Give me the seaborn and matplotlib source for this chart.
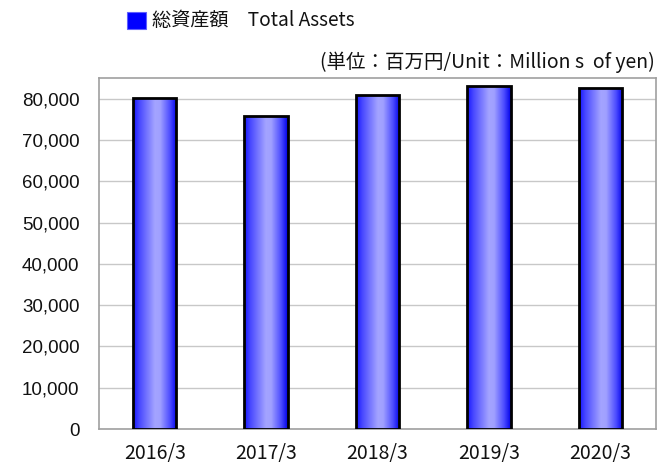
import numpy as np
import pandas as pd
import matplotlib
matplotlib.use("Agg")
import matplotlib.pyplot as plt
from matplotlib.colors import LinearSegmentedColormap
from matplotlib.ticker import FuncFormatter, MultipleLocator
import seaborn as sns

categories = ["2016/3", "2017/3", "2018/3", "2019/3", "2020/3"]
values = [80200, 75900, 81000, 83000, 82500]
legend_label = "総資産額　Total Assets"
unit_label = "(単位：百万円/Unit：Million s  of yen)"

sns.set_theme(style="white")
plt.rcParams['font.family'] = ['Liberation Sans', 'Noto Sans CJK JP', 'DejaVu Sans']

df = pd.DataFrame({"period": categories, "assets": values})

fig = plt.figure(figsize=(6.57, 4.65), dpi=100)
ax = fig.add_axes([99/657, (465-429)/465, (656-99)/657, (429-78)/465])

sns.barplot(data=df, x="period", y="assets", ax=ax, width=0.39,
            color="#0000ff", edgecolor="black", linewidth=2.0, zorder=3)

grad = LinearSegmentedColormap.from_list("g", [
    (0.0, "#1414ff"), (0.15, "#4a4aff"), (0.5, "#a4a4ff"), (0.62, "#a0a0ff"),
    (0.85, "#4a4aff"), (1.0, "#0000e8")])
gimg = np.linspace(0, 1, 256).reshape(1, -1)
for p in ax.patches:
    x0, y0 = p.get_x(), p.get_y()
    w, h = p.get_width(), p.get_height()
    im = ax.imshow(gimg, cmap=grad, extent=[x0, x0 + w, y0, y0 + h],
                   aspect="auto", zorder=3, interpolation="bilinear")
    im.set_clip_path(p)
    p.set_facecolor("none")
    p.set_zorder(4)

ax.set_xlim(-0.5, len(categories) - 0.5)
ax.set_ylim(0, 85000)
ax.yaxis.set_major_locator(MultipleLocator(10000))
ax.yaxis.set_major_formatter(FuncFormatter(lambda v, _: f"{int(v):,}"))
ax.grid(axis="y", color="#c8c8c8", linewidth=1.0, zorder=0)
ax.set_axisbelow(True)
ax.set_xlabel("")
ax.set_ylabel("")

for s in ax.spines.values():
    s.set_visible(True)
    s.set_color("#a0a0a0")
    s.set_linewidth(1.2)

ax.tick_params(axis="y", length=0, labelsize=13.5, pad=14, colors="#111111")
ax.tick_params(axis="x", which="major", length=0, labelsize=14, pad=10, colors="#111111")
for lab in ax.get_xticklabels():
    lab.set_fontfamily(['Noto Sans CJK JP', 'DejaVu Sans'])
ax.set_xticks(np.arange(0.5, len(categories) - 0.5), minor=True)
ax.tick_params(axis="x", which="minor", direction="in", length=5, color="#c8c8c8", width=1)

# legend at top
fig.patches.append(plt.Rectangle((127/657, 1 - 29/465), 19/657, 17/465,
                                 transform=fig.transFigure, facecolor="#0000ff",
                                 edgecolor="#6060ff", linewidth=0.8))
fig.text(152/657, 1 - 21/465, legend_label, fontsize=13.8, va="center", ha="left",
         family=['Noto Sans CJK JP', 'DejaVu Sans'], color="#111111")
fig.text(655/657, 1 - 62/465, unit_label, fontsize=14, va="center", ha="right",
         family=['Noto Sans CJK JP', 'DejaVu Sans'], color="#111111")

fig.savefig("out.png", dpi=100)
